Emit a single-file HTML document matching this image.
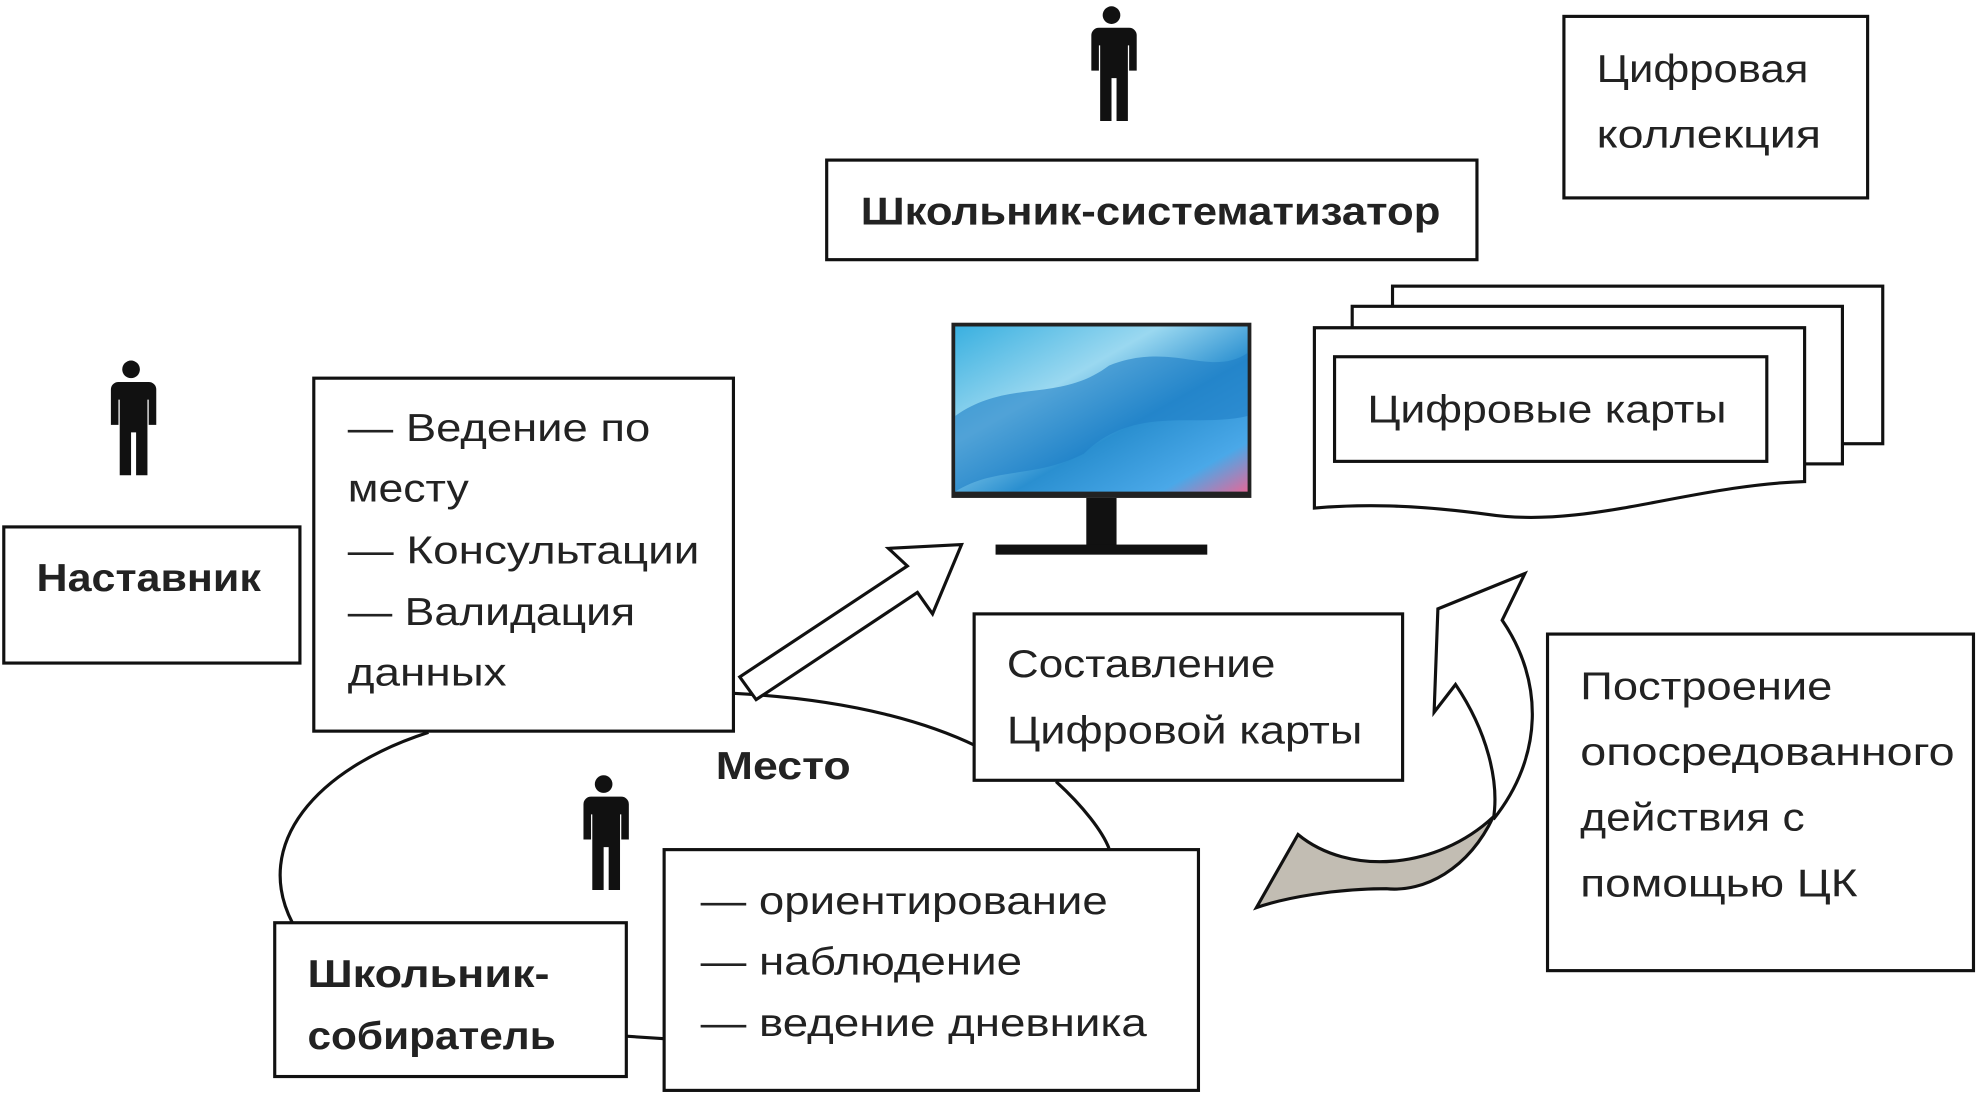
<!DOCTYPE html>
<html><head><meta charset="utf-8"><style>html,body{margin:0;padding:0;background:#fff}svg{display:block}text{font-family:"Liberation Sans",sans-serif;fill:#222}</style></head>
<body>
<svg width="1976" height="1103" viewBox="0 0 1568 875" preserveAspectRatio="none" xmlns="http://www.w3.org/2000/svg">
<defs>
<g id="p">
<circle cx="0" cy="-40" r="7" fill="#111"/>
<path d="M-14,-30 h28 a6,6 0 0 1 6,6 v28 h-6 v-20 h-1 v60 h-9 v-34 h-4 v34 h-9 v-60 h-1 v20 h-6 v-28 a6,6 0 0 1 6,-6z" fill="#111"/>
</g>
<linearGradient id="sc" x1="0" y1="0" x2="1" y2="1">
<stop offset="0" stop-color="#3ab0e0"/><stop offset="0.35" stop-color="#9ad8f0"/><stop offset="0.6" stop-color="#2a8fd0"/><stop offset="0.85" stop-color="#4aa8e8"/><stop offset="1" stop-color="#e06a9a"/>
</linearGradient>
</defs>
<g fill="none" stroke="#111" stroke-width="2.5">
<path d="M582,550 C680,555 740,575 775,592"/>
<path d="M838,620 C860,640 875,660 880,673"/>
<path d="M340,581 C250,610 200,670 232,732"/>
<line x1="497" y1="822" x2="527" y2="824"/>
<rect x="1241" y="13" width="241" height="144"/>
<rect x="656" y="127" width="516" height="79"/>
<rect x="3" y="418" width="235" height="108"/>
<rect x="249" y="300" width="333" height="280" fill="#fff"/>
<rect x="773" y="487" width="340" height="132" fill="#fff"/>
<rect x="1228" y="503" width="338" height="267"/>
<rect x="218" y="732" width="279" height="122" fill="#fff"/>
<rect x="527" y="674" width="424" height="191" fill="#fff"/>
<rect x="1105" y="227" width="389" height="125" fill="#fff"/>
<rect x="1073" y="243" width="389" height="125" fill="#fff"/>
<path d="M1043,260 H1432 V382 C1340,385 1260,420 1180,408 C1120,400 1080,400 1043,403 Z" fill="#fff"/>
<rect x="1059" y="283" width="343" height="83"/>
<path d="M587,537 L720,449 L705,435 L763,432 L740,487 L728,470 L600,555 Z" fill="#fff"/>
<path d="M1030,662 C1070,695 1140,690 1185,648 C1165,690 1130,708 1100,705 C1060,705 1020,712 997,720 Z" fill="#c2bdb3"/>
<path d="M1185,650 C1225,600 1225,540 1192,492 L1210,455 L1141,483 L1138,565 L1155,543 C1180,580 1190,620 1185,650"/>
</g>
<rect x="755" y="256" width="238" height="139" fill="#222"/>
<rect x="758" y="259" width="232" height="131" fill="url(#sc)"/>
<path d="M758,330 C800,300 840,320 880,290 C930,270 960,300 990,280 V330 C950,340 900,320 860,360 C820,380 790,370 758,390Z" fill="#1f7ec6" opacity="0.6"/>
<rect x="862" y="395" width="24" height="40" fill="#111"/>
<rect x="790" y="432" width="168" height="8" fill="#111"/>
<use href="#p" x="882" y="52"/>
<use href="#p" x="104" y="333"/>
<use href="#p" x="479" y="662"/>
<g font-size="31">
<text x="1267" y="65" textLength="168" lengthAdjust="spacingAndGlyphs">Цифровая</text>
<text x="1267" y="117" textLength="178" lengthAdjust="spacingAndGlyphs">коллекция</text>
<text x="683" y="178" font-weight="bold" textLength="460" lengthAdjust="spacingAndGlyphs">Школьник-систематизатор</text>
<text x="1085" y="335" textLength="285" lengthAdjust="spacingAndGlyphs">Цифровые карты</text>
<text x="29" y="469" font-weight="bold" textLength="178" lengthAdjust="spacingAndGlyphs">Наставник</text>
<text x="276" y="350" textLength="240" lengthAdjust="spacingAndGlyphs">— Ведение по</text>
<text x="276" y="398" textLength="96" lengthAdjust="spacingAndGlyphs">месту</text>
<text x="276" y="447" textLength="279" lengthAdjust="spacingAndGlyphs">— Консультации</text>
<text x="276" y="496" textLength="228" lengthAdjust="spacingAndGlyphs">— Валидация</text>
<text x="276" y="544" textLength="126" lengthAdjust="spacingAndGlyphs">данных</text>
<text x="568" y="618" font-weight="bold" textLength="107" lengthAdjust="spacingAndGlyphs">Место</text>
<text x="799" y="537" textLength="213" lengthAdjust="spacingAndGlyphs">Составление</text>
<text x="799" y="590" textLength="282" lengthAdjust="spacingAndGlyphs">Цифровой карты</text>
<text x="1254" y="555" textLength="200" lengthAdjust="spacingAndGlyphs">Построение</text>
<text x="1254" y="607" textLength="297" lengthAdjust="spacingAndGlyphs">опосредованного</text>
<text x="1254" y="659" textLength="178" lengthAdjust="spacingAndGlyphs">действия с</text>
<text x="1254" y="711" textLength="220" lengthAdjust="spacingAndGlyphs">помощью ЦК</text>
<text x="244" y="783" font-weight="bold" textLength="192" lengthAdjust="spacingAndGlyphs">Школьник-</text>
<text x="244" y="832" font-weight="bold" textLength="197" lengthAdjust="spacingAndGlyphs">собиратель</text>
<text x="556" y="725" textLength="323" lengthAdjust="spacingAndGlyphs">— ориентирование</text>
<text x="556" y="773" textLength="255" lengthAdjust="spacingAndGlyphs">— наблюдение</text>
<text x="556" y="822" textLength="354" lengthAdjust="spacingAndGlyphs">— ведение дневника</text>
</g>
</svg>
</body></html>
